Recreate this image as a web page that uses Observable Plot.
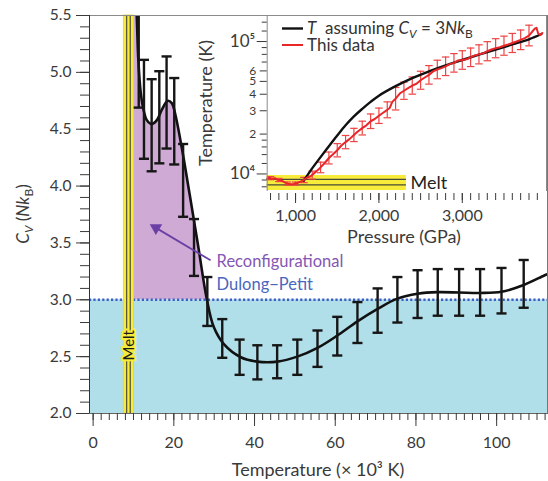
<!DOCTYPE html>
<html><head><meta charset="utf-8">
<script src="https://cdn.jsdelivr.net/npm/d3@7"></script>
<script src="https://cdn.jsdelivr.net/npm/@observablehq/plot@0.6"></script>
<style>
body{margin:0;background:#fff;}
#wrap{position:relative;width:548px;height:481px;font-family:Lato,"Open Sans",sans-serif;}
#wrap svg{position:absolute;}
</style></head><body><div id="wrap"></div>
<script>
// ---------- main panel data ----------
const curveT  = [10.1, 10.8, 11.2, 11.8, 12.5, 13.3, 14.5, 15.8, 17.0, 18.5, 19.5, 20.3, 22, 24, 26, 28.2, 29.9, 32.4, 36.6, 40.7, 45.7, 50.6, 55.6, 60.5, 65.5, 70.5, 75.4, 80.4, 85.4, 90.7, 95.9, 101.2, 106.7, 111.8, 112.6];
const curveCv = [6.0, 5.5, 5.11, 4.82, 4.67, 4.58, 4.546, 4.58, 4.67, 4.75, 4.73, 4.64, 4.33, 3.91, 3.48, 3.0, 2.76, 2.61, 2.495, 2.456, 2.456, 2.50, 2.577, 2.685, 2.81, 2.92, 3.01, 3.053, 3.067, 3.064, 3.06, 3.07, 3.13, 3.214, 3.225];
const barT    = [11.3, 12.6, 14.5, 16.4, 18.2, 20.1, 22.3, 25.0, 28.3, 32.0, 36.3, 40.7, 45.6, 50.6, 55.6, 60.5, 65.5, 70.5, 75.4, 80.4, 85.4, 90.7, 95.9, 101.2, 106.7];
const barCv   = [5.155, 4.675, 4.535, 4.605, 4.735, 4.57, 4.05, 3.46, 2.985, 2.66, 2.495, 2.45, 2.455, 2.495, 2.57, 2.68, 2.80, 2.905, 3.00, 3.05, 3.065, 3.065, 3.065, 3.08, 3.14];
const barErr  = [0.465, 0.435, 0.405, 0.405, 0.405, 0.38, 0.32, 0.25, 0.215, 0.17, 0.155, 0.15, 0.145, 0.155, 0.16, 0.17, 0.18, 0.195, 0.20, 0.21, 0.205, 0.205, 0.205, 0.20, 0.21];
const dulongPetit = 3;
const meltBandT = [7.6, 10.1];
const meltLinesT = [8.3, 9.2];
const xTicksMajor = [0, 20, 40, 60, 80, 100];
const yTicksMajor = [2.0, 2.5, 3.0, 3.5, 4.0, 4.5, 5.0, 5.5];
const xDomain = [-0.9, 112.6], yDomain = [2, 5.5];
// annotation (data coords)
const arrowFrom = [29.1, 3.347], arrowTo = [14.5, 3.655];

// ---------- inset data ----------
const blackP = [1100, 1180, 1300, 1400, 1500, 1600, 1700, 1800, 1900, 2000, 2200, 2400, 2600, 2800, 3000, 3200, 3400, 3600, 3800, 3950];
const blackT = [8900, 10600, 13400, 16200, 19500, 23300, 27200, 31000, 35000, 39000, 46000, 53000, 59500, 66000, 72500, 79500, 87000, 95000, 104000, 114000];
const redP = [660, 690, 720, 750, 780, 820, 860, 900, 940, 980, 1020, 1060, 1100, 1140, 1180, 1220, 1260, 1300, 1350, 1400, 1450, 1500, 1550, 1600, 1650, 1700, 1750, 1800, 1850, 1900, 1950, 2000, 2050, 2100, 2130, 2160, 2200, 2250, 2300, 2350, 2400, 2450, 2500, 2550, 2600, 2650, 2700, 2750, 2800, 2850, 2900, 2950, 3000, 3050, 3100, 3150, 3200, 3250, 3300, 3350, 3400, 3450, 3500, 3550, 3600, 3650, 3700, 3750, 3800, 3840, 3870, 3890, 3910, 3935, 3960];
const redT = [9250, 9350, 9200, 9300, 9050, 9000, 8700, 8450, 8350, 8400, 8550, 8750, 9000, 9400, 9600, 10100, 10600, 11200, 12100, 13200, 14100, 15100, 16400, 17400, 18400, 19700, 21000, 22200, 23300, 25000, 26000, 27500, 29000, 30500, 31500, 35000, 37000, 40500, 42500, 44500, 46500, 48000, 51000, 53500, 56000, 59500, 61500, 63000, 65000, 67500, 69000, 72000, 72500, 73500, 76000, 78500, 80000, 81500, 84500, 87000, 89000, 90500, 93000, 95000, 97500, 100000, 103000, 106000, 111000, 119000, 125000, 127000, 115000, 112000, 116000];
const redBarP = [700, 800, 900, 1000, 1100, 1200, 1300, 1400, 1500, 1600, 1700, 1800, 1900, 2000, 2100, 2200, 2300, 2400, 2500, 2600, 2700, 2800, 2900, 3000, 3100, 3200, 3300, 3400, 3500, 3600, 3700, 3800];
const redBarT = [9300, 9000, 8450, 8450, 9000, 9800, 11200, 13200, 15100, 17400, 19700, 22200, 25000, 27500, 30500, 37000, 42500, 46500, 51000, 56000, 61500, 65000, 69000, 72500, 76000, 80000, 84500, 89000, 93000, 97500, 103000, 111000];
const redBarLogErr = [0.012, 0.012, 0.012, 0.012, 0.02, 0.03, 0.04, 0.045, 0.05, 0.05, 0.05, 0.052, 0.055, 0.058, 0.06, 0.085, 0.065, 0.065, 0.068, 0.07, 0.07, 0.07, 0.07, 0.07, 0.07, 0.072, 0.072, 0.072, 0.072, 0.072, 0.074, 0.078];
const insetMeltP = [660, 2330];
const insetMeltT = [7500, 9740];
const insetMeltLinesT = [9090, 8280];
const insetYTickDecades = [10000, 100000];
const insetYDecadeLabels = ["10\u2074", "10\u2075"];
const insetYTickDigits = [20000, 30000, 40000, 50000, 60000];
const insetYDigitLabels = ["2", "3", "4", "5", "6"];
const insetYTickMinor = [8000, 9000, 12000, 14000, 16000, 18000, 70000, 80000, 90000, 120000, 140000];
const insetXTicksMajor = [1000, 2000, 3000];

// ---------- build tables ----------
const curve = curveT.map((t, i) => ({t, cv: curveCv[i]}));
const purple = curve.filter(d => d.t >= meltBandT[1] && d.t <= 28.2);
const bars = barT.map((t, i) => ({t, lo: barCv[i] - barErr[i], hi: barCv[i] + barErr[i]}));
const caps = bars.flatMap(d => [{t: d.t, v: d.lo}, {t: d.t, v: d.hi}]);

const FONT = "Lato, 'Open Sans', sans-serif";
const PURPLE = "#cfaad4", CYAN = "#b0dfea", YELLOW = "#f7ec3b";

// arrow head geometry (pixel space via scales)
const sx = Plot.scale({x: {domain: xDomain, range: [89, 547]}});
const sy = Plot.scale({y: {domain: yDomain, range: [413, 15]}});
const ax1 = sx.apply(arrowFrom[0]), ay1 = sy.apply(arrowFrom[1]);
const ax2 = sx.apply(arrowTo[0]), ay2 = sy.apply(arrowTo[1]);
const len = Math.hypot(ax2 - ax1, ay2 - ay1);
const ux = (ax2 - ax1) / len, uy = (ay2 - ay1) / len;
const headAngle = Math.atan2(ux, -uy) * 180 / Math.PI;
const headCenter = {t: sx.invert(ax2 - ux * 5), cv: sy.invert(ay2 - uy * 5)};
const lineEnd = {t: sx.invert(ax2 - ux * 7), cv: sy.invert(ay2 - uy * 7)};

const main = Plot.plot({
  width: 548, height: 481,
  marginLeft: 89, marginRight: 1, marginTop: 15, marginBottom: 68,
  style: {fontFamily: FONT, color: "#3a3a3a", background: "transparent", overflow: "visible"},
  x: {domain: xDomain},
  y: {domain: yDomain},
  marks: [
    Plot.rect([0], {x1: () => xDomain[0], x2: () => xDomain[1], y1: () => yDomain[0], y2: () => dulongPetit, fill: CYAN}),
    Plot.areaY(purple, {x: "t", y1: () => dulongPetit, y2: "cv", curve: "catmull-rom", fill: PURPLE, clip: true}),
    Plot.ruleY([dulongPetit], {stroke: "#3d5ec4", strokeWidth: 2.5, strokeDasharray: "2.2,2.2"}),
    Plot.rect([meltBandT], {x1: d => d[0], x2: d => d[1], y1: () => yDomain[0], y2: () => yDomain[1], fill: YELLOW, stroke: "#e4d52a", strokeWidth: 0.8}),
    Plot.ruleX(meltLinesT, {y1: () => yDomain[0], y2: () => yDomain[1], stroke: "#5b5838", strokeWidth: 1.3}),
    Plot.text(["Melt"], {x: () => (meltBandT[0] + meltBandT[1]) / 2, y: () => 2.6, rotate: -90, fontSize: 15, fill: "#1a1a1a", stroke: YELLOW, strokeWidth: 4, strokeLinejoin: "miter", paintOrder: "stroke"}),
    Plot.line(curve, {x: "t", y: "cv", curve: "catmull-rom", stroke: "#111", strokeWidth: 2.6, clip: true}),
    Plot.ruleX(bars, {x: "t", y1: "lo", y2: "hi", stroke: "#161616", strokeWidth: 2.4, clip: true}),
    Plot.link(caps, {x1: d => d.t - 1.25, x2: d => d.t + 1.25, y1: "v", y2: "v", stroke: "#161616", strokeWidth: 2.4, clip: true}),
    Plot.link([0], {x1: () => arrowFrom[0], y1: () => arrowFrom[1], x2: () => lineEnd.t, y2: () => lineEnd.cv, stroke: "#6a40a6", strokeWidth: 1.8}),
    Plot.dot([headCenter], {x: "t", y: "cv", symbol: "triangle2", r: 6, rotate: headAngle, fill: "#6a40a6"}),
    Plot.text(["Reconfigurational"], {x: () => 30.6, y: () => 3.335, textAnchor: "start", fontSize: 16.5, fill: "#8556b3"}),
    Plot.text(["Dulong\u2212Petit"], {x: () => 30.6, y: () => 3.13, textAnchor: "start", fontSize: 16.5, fill: "#4a66bd"}),
    Plot.frame({anchor: "top", stroke: "#8a8a8a"}),
    Plot.frame({anchor: "right", stroke: "#777"}),
    Plot.frame({anchor: "left", stroke: "#333"}),
    Plot.frame({anchor: "bottom", stroke: "#666"}),
    Plot.axisY(d3.range(20, 56).map(d => d / 10), {tickSize: 9, tickFormat: () => "", label: null}),
    Plot.axisY(yTicksMajor, {tickSize: 13, tickPadding: 5, tickFormat: d3.format(".1f"), fontSize: 15.5, label: null}),
    Plot.axisX(d3.range(0, 113, 2), {tickSize: 7, tickFormat: () => "", label: null}),
    Plot.axisX(xTicksMajor, {tickSize: 13, tickPadding: 10, fontSize: 16, label: null})
  ]
});

const inset = Plot.plot({
  width: 358, height: 250,
  marginLeft: 76.7, marginRight: 2, marginTop: 16, marginBottom: 60,
  style: {fontFamily: FONT, color: "#3a3a3a", background: "transparent", overflow: "visible"},
  x: {domain: [660, 4010]},
  y: {type: "log", domain: [7500, 154500]},
  marks: [
    Plot.rect([0], {x1: () => insetMeltP[0], x2: () => insetMeltP[1], y1: () => insetMeltT[0], y2: () => insetMeltT[1], fill: YELLOW}),
    Plot.ruleY(insetMeltLinesT, {x1: () => insetMeltP[0], x2: () => insetMeltP[1], stroke: "#4a4a3a", strokeWidth: 1.3}),
    Plot.text(["Melt"], {x: () => 2380, y: () => 8530, textAnchor: "start", fontSize: 18, fill: "#222"}),
    Plot.ruleX(redBarP.map((p, i) => ({p, lo: redBarT[i] / 10 ** redBarLogErr[i], hi: redBarT[i] * 10 ** redBarLogErr[i]})), {x: "p", y1: "lo", y2: "hi", stroke: "#ee4444", strokeWidth: 1.2}),
    Plot.link(redBarP.flatMap((p, i) => [{p, v: redBarT[i] / 10 ** redBarLogErr[i]}, {p, v: redBarT[i] * 10 ** redBarLogErr[i]}]), {x1: d => d.p - 45, x2: d => d.p + 45, y1: "v", y2: "v", stroke: "#ee4444", strokeWidth: 1.2}),
    Plot.line(blackP.map((p, i) => ({p, t: blackT[i]})), {x: "p", y: "t", curve: "catmull-rom", stroke: "#111", strokeWidth: 2.4}),
    Plot.line(redP.map((p, i) => ({p, t: redT[i]})), {x: "p", y: "t", stroke: "#e8262a", strokeWidth: 2}),
    Plot.frame({anchor: "left", stroke: "#8a8a8a"}),
    Plot.frame({anchor: "right", stroke: "#8a8a8a"}),
    Plot.axisY(insetYTickMinor, {tickSize: 5, tickFormat: () => "", label: null}),
    Plot.axisY(insetYTickDigits, {tickSize: 7, tickFormat: () => "", label: null}),
    Plot.axisY(insetYTickDecades, {tickSize: 10, tickFormat: () => "", label: null}),
    Plot.text(insetYTickDigits, {y: d => d, text: (d, i) => insetYDigitLabels[i], frameAnchor: "left", dx: -11, textAnchor: "end", fontSize: 12, fill: "#3a3a3a"}),
    Plot.text(insetYTickDecades, {y: d => d, text: (d, i) => insetYDecadeLabels[i], frameAnchor: "left", dx: -12, textAnchor: "end", fontSize: 17, fill: "#3a3a3a"}),
    Plot.axisX(d3.range(700, 4000, 100), {tickSize: 7, tickFormat: () => "", label: null, dy: 3}),
    Plot.axisX(insetXTicksMajor, {tickSize: 10, tickPadding: 6, tickFormat: d3.format(","), fontSize: 16, label: null, dy: 3})
  ]
});

const wrap = document.getElementById("wrap");
main.style.left = "0px"; main.style.top = "0px";
inset.style.left = "190px"; inset.style.top = "0px";
wrap.appendChild(main);
wrap.appendChild(inset);

// axis titles (rich text)
const ms = d3.select(main);
const yl = ms.append("text").attr("transform", "translate(29,214) rotate(-90)")
  .attr("text-anchor", "middle").attr("font-size", 17).attr("fill", "#3a3a3a").attr("font-family", FONT);
yl.append("tspan").attr("font-style", "italic").text("C");
yl.append("tspan").attr("font-style", "italic").attr("font-size", 12).attr("dy", 4).text("V");
yl.append("tspan").attr("dy", -4).text(" (");
yl.append("tspan").attr("font-style", "italic").text("Nk");
yl.append("tspan").attr("font-size", 12).attr("dy", 4).text("B");
yl.append("tspan").attr("dy", -4).text(")");
ms.append("text").attr("x", 318).attr("y", 476).attr("text-anchor", "middle")
  .attr("font-size", 18).attr("fill", "#3a3a3a").attr("font-family", FONT).text("Temperature (\u00d7 10\u00b3 K)");

const is = d3.select(inset);
is.append("text").attr("transform", "translate(22,103) rotate(-90)").attr("text-anchor", "middle")
  .attr("font-size", 18).attr("fill", "#3a3a3a").attr("font-family", FONT).text("Temperature (K)");
is.append("text").attr("x", 214).attr("y", 243).attr("text-anchor", "middle")
  .attr("font-size", 18).attr("fill", "#3a3a3a").attr("font-family", FONT).text("Pressure (GPa)");
// legend
is.append("line").attr("x1", 92).attr("x2", 113).attr("y1", 28.5).attr("y2", 28.5).attr("stroke", "#111").attr("stroke-width", 2.4);
is.append("line").attr("x1", 92).attr("x2", 113).attr("y1", 45).attr("y2", 45).attr("stroke", "#e8262a").attr("stroke-width", 2);
const lg = is.append("text").attr("x", 117).attr("y", 34).attr("text-anchor", "start").attr("font-size", 17).attr("fill", "#333").attr("font-family", FONT);
lg.append("tspan").attr("font-style", "italic").text("T");
lg.append("tspan").text("\u00a0 assuming ");
lg.append("tspan").attr("font-style", "italic").text("C");
lg.append("tspan").attr("font-style", "italic").attr("font-size", 12).attr("dy", 4).text("V");
lg.append("tspan").attr("dy", -4).text(" = 3");
lg.append("tspan").attr("font-style", "italic").text("Nk");
lg.append("tspan").attr("font-size", 12).attr("dy", 4).text("B");
is.append("text").attr("x", 117).attr("y", 51).attr("text-anchor", "start").attr("font-size", 17).attr("fill", "#333").attr("font-family", FONT).text("This data");
</script></body></html>
